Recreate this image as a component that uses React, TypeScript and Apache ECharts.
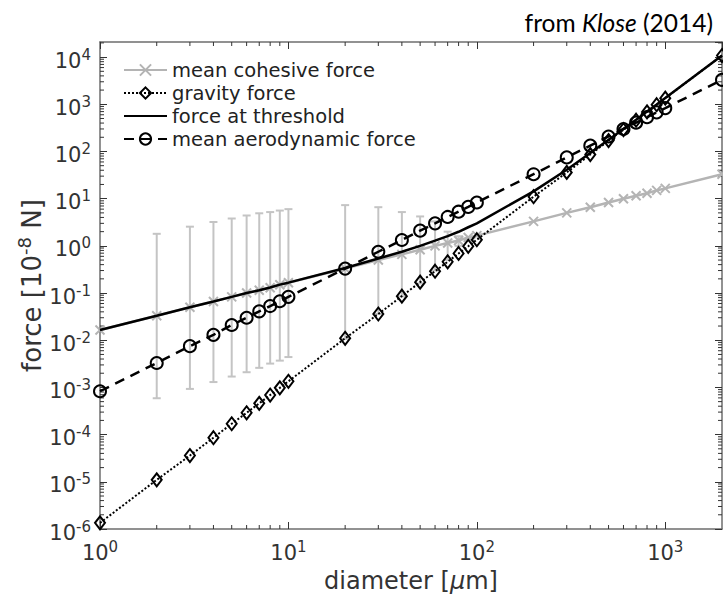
import React, { useEffect, useRef } from 'react';
import * as echarts from 'echarts';

// ---- data (diameter in µm, forces in 1e-8 N) ----
const diameters = [1, 2, 3, 4, 5, 6, 7, 8, 9, 10, 20, 30, 40, 50, 60, 70, 80, 90, 100, 200, 300, 400, 500, 600, 700, 800, 900, 1000, 2000];
const cohesiveForce = [0.0165, 0.033, 0.05, 0.066, 0.083, 0.1, 0.115, 0.13, 0.15, 0.165, 0.33, 0.5, 0.66, 0.83, 1.0, 1.15, 1.3, 1.5, 1.65, 3.3, 5.0, 6.6, 8.3, 10, 11.5, 13, 15, 16.5, 33];
const gravityForce = [1.35e-6, 1.1e-5, 3.6e-5, 8.6e-5, 1.7e-4, 2.9e-4, 4.6e-4, 6.9e-4, 9.8e-4, 1.35e-3, 1.1e-2, 3.6e-2, 8.6e-2, 0.17, 0.29, 0.46, 0.69, 0.98, 1.35, 11, 36, 86, 170, 290, 460, 690, 980, 1350, 10800];
const thresholdForce = [0.0165, 0.033, 0.05, 0.066, 0.083, 0.1, 0.115, 0.131, 0.151, 0.166, 0.34, 0.54, 0.75, 1.0, 1.29, 1.61, 1.99, 2.48, 3.0, 14.3, 41, 93, 178, 300, 472, 703, 995, 1366, 10833];
const aeroForce = [8.3e-4, 3.3e-3, 7.5e-3, 0.013, 0.021, 0.03, 0.041, 0.053, 0.067, 0.083, 0.33, 0.75, 1.33, 2.1, 3.0, 4.1, 5.3, 6.7, 8.3, 33, 75, 133, 208, 300, 408, 533, 675, 830, 3300];

const errDiameters = [2, 3, 4, 5, 6, 7, 8, 9, 10, 20, 30, 40, 50, 60, 70, 80];
const errUpper = [1.8, 2.55, 3.2, 3.8, 4.4, 4.9, 5.2, 5.6, 6.0, 7.3, 6.6, 5.2, 4.2, 3.3, 2.0, 1.6];
const errLower = [5.9e-4, 9.3e-4, 1.3e-3, 1.7e-3, 2.1e-3, 2.6e-3, 3.2e-3, 3.7e-3, 4.4e-3, 0.0107, 0.036, 0.085, 0.16, 0.3, 0.5, 1.0];

const legendNames = ['mean cohesive force', 'gravity force', 'force at threshold', 'mean aerodynamic force'];

const xDecades = [0, 1, 2];
const yDecades = [-6, -5, -4, -3, -2, -1, 0, 1, 2, 3, 4];
const minorFactors = [2, 3, 4, 5, 6, 7, 8, 9];

const X_MIN = 0;
const X_MAX = Math.log10(2000);
const Y_MIN = -6;
const Y_MAX = 4.32;

const FONT = 'DejaVu Sans';
const AXIS_COLOR = '#6e6e6e';
const TICK_COLOR = '#333';
const LABEL_COLOR = '#333';

const lg = (v: number) => Math.log10(v);

const supRich = {
  b: { fontSize: 21, lineHeight: 28, fontFamily: FONT, color: LABEL_COLOR, verticalAlign: 'bottom' },
  s: { fontSize: 15, lineHeight: 15, fontFamily: FONT, color: LABEL_COLOR, verticalAlign: 'top', padding: [4, 0, 0, 0] },
};

const powFormatter = (v: number) => {
  const r = Math.round(v);
  if (Math.abs(v - r) > 1e-6) return '';
  return `{b|10}{s|${r}}`;
};

export default function App() {
  const ref = useRef<HTMLDivElement>(null);

  useEffect(() => {
    if (!ref.current) return;
    const chart = echarts.init(ref.current, undefined, { renderer: 'svg' });

    const xMinor: number[] = [];
    xDecades.forEach((d) => minorFactors.forEach((f) => xMinor.push(lg(f) + d)));
    const yMinor: number[] = [];
    yDecades.forEach((d) =>
      minorFactors.forEach((f) => {
        const v = lg(f) + d;
        if (v < Y_MAX) yMinor.push(v);
      })
    );

    const pair = (ys: number[]) => diameters.map((d, i) => [lg(d), lg(ys[i])]);

    const commonX = {
      type: 'value',
      min: X_MIN,
      max: X_MAX,
      interval: 1,
      splitLine: { show: false },
      axisLine: { onZero: false, lineStyle: { color: AXIS_COLOR, width: 1.5 } },
      axisTick: { inside: true, length: 7, lineStyle: { color: TICK_COLOR, width: 1 } },
    };
    const commonY = {
      type: 'value',
      min: Y_MIN,
      max: Y_MAX,
      interval: 1,
      splitLine: { show: false },
      axisLine: { onZero: false, lineStyle: { color: AXIS_COLOR, width: 1.5 } },
      axisTick: { inside: true, length: 7, lineStyle: { color: TICK_COLOR, width: 1 } },
    };

    const option: any = {
      animation: false,
      backgroundColor: '#fff',
      title: {
        text: 'from {i|Klose} (2014)',
        right: 5,
        top: 5,
        textStyle: {
          fontFamily: 'Lato',
          fontSize: 24.5,
          fontWeight: 'normal',
          color: '#000',
          rich: { i: { fontFamily: 'Lato', fontSize: 24.5, fontStyle: 'italic', color: '#000' } },
        },
      },
      grid: { left: 100, right: 1, top: 42, bottom: 69, containLabel: false },
      legend: {
        data: legendNames.map((n, i) =>
          i === 2
            ? { name: n, itemStyle: { color: 'transparent', borderColor: 'transparent', borderWidth: 0 } }
            : { name: n }
        ),
        orient: 'vertical',
        left: 118,
        top: 55,
        itemWidth: 43,
        itemHeight: 14,
        itemGap: 3,
        textStyle: { fontFamily: FONT, fontSize: 19.5, color: '#222' },
        selectedMode: false,
      },
      xAxis: [
        {
          ...commonX,
          position: 'bottom',
          name: 'diameter [{mu|μ}m]',
          nameLocation: 'middle',
          nameGap: 40,
          nameMoveOverlap: false,
          nameTextStyle: {
            fontFamily: FONT,
            fontSize: 24,
            color: LABEL_COLOR,
            rich: { mu: { fontFamily: FONT, fontSize: 24, fontStyle: 'italic', color: LABEL_COLOR } },
          },
          axisLabel: { margin: 6, formatter: powFormatter, rich: supRich, showMaxLabel: false },
        },
        { ...commonX, position: 'top', axisLabel: { show: false } },
      ],
      yAxis: [
        {
          ...commonY,
          position: 'left',
          name: '{b|force [10}{s|-8}{b| N]}',
          nameLocation: 'middle',
          nameGap: 55,
          nameMoveOverlap: false,
          nameTextStyle: {
            fontFamily: FONT,
            fontSize: 26,
            color: LABEL_COLOR,
            rich: {
              b: { fontFamily: FONT, fontSize: 26, lineHeight: 34, color: LABEL_COLOR, verticalAlign: 'bottom' },
              s: { fontFamily: FONT, fontSize: 18, lineHeight: 18, color: LABEL_COLOR, verticalAlign: 'top', padding: [4, 0, 0, 0] },
            },
          },
          axisLabel: { margin: 9, formatter: powFormatter, rich: supRich, showMaxLabel: false },
        },
        { ...commonY, position: 'right', axisLabel: { show: false } },
      ],
      series: [
        {
          type: 'custom',
          silent: true,
          clip: false,
          data: xMinor.map((v) => [v, Y_MIN]),
          encode: { x: 0, y: 1 },
          renderItem: (_p: any, api: any) => {
            const x = api.coord([api.value(0), Y_MIN])[0];
            const yb = api.coord([X_MIN, Y_MIN])[1];
            const yt = api.coord([X_MIN, Y_MAX])[1];
            const st = { stroke: TICK_COLOR, lineWidth: 1 };
            return {
              type: 'group',
              children: [
                { type: 'line', shape: { x1: x, y1: yb, x2: x, y2: yb - 4 }, style: st },
                { type: 'line', shape: { x1: x, y1: yt, x2: x, y2: yt + 4 }, style: st },
              ],
            };
          },
        },
        {
          type: 'custom',
          silent: true,
          clip: false,
          data: yMinor.map((v) => [X_MIN, v]),
          encode: { x: 0, y: 1 },
          renderItem: (_p: any, api: any) => {
            const y = api.coord([X_MIN, api.value(1)])[1];
            const xl = api.coord([X_MIN, Y_MIN])[0];
            const xr = api.coord([X_MAX, Y_MIN])[0];
            const st = { stroke: TICK_COLOR, lineWidth: 1 };
            return {
              type: 'group',
              children: [
                { type: 'line', shape: { x1: xl, y1: y, x2: xl + 4, y2: y }, style: st },
                { type: 'line', shape: { x1: xr, y1: y, x2: xr - 4, y2: y }, style: st },
              ],
            };
          },
        },
        {
          name: legendNames[0],
          type: 'line',
          clip: false,
          data: pair(cohesiveForce),
          symbol: 'path://M0,0L10,10M10,0L0,10',
          symbolSize: 9,
          lineStyle: { color: '#b4b4b4', width: 2.5 },
          itemStyle: { color: 'none', borderColor: '#b4b4b4', borderWidth: 2 },
          z: 2,
        },
        {
          type: 'custom',
          silent: true,
          data: errDiameters.map((d, i) => [lg(d), lg(errLower[i]), lg(errUpper[i])]),
          encode: { x: 0, y: [1, 2] },
          z: 1,
          renderItem: (_p: any, api: any) => {
            const lo = api.coord([api.value(0), api.value(1)]);
            const hi = api.coord([api.value(0), api.value(2)]);
            const w = 4;
            const st = { stroke: '#c4c4c4', lineWidth: 2 };
            return {
              type: 'group',
              children: [
                { type: 'line', shape: { x1: lo[0], y1: lo[1], x2: hi[0], y2: hi[1] }, style: st },
                { type: 'line', shape: { x1: lo[0] - w, y1: lo[1], x2: lo[0] + w, y2: lo[1] }, style: st },
                { type: 'line', shape: { x1: hi[0] - w, y1: hi[1], x2: hi[0] + w, y2: hi[1] }, style: st },
              ],
            };
          },
        },
        {
          name: legendNames[1],
          type: 'line',
          clip: false,
          data: pair(gravityForce),
          symbol: 'diamond',
          symbolSize: [10, 13],
          lineStyle: { color: '#000', width: 2, type: [2, 2] },
          itemStyle: { color: 'none', borderColor: '#000', borderWidth: 2 },
          z: 3,
        },
        {
          name: legendNames[2],
          type: 'line',
          clip: false,
          data: pair(thresholdForce),
          symbol: 'none',
          lineStyle: { color: '#000', width: 2.5 },
          itemStyle: { color: 'none', borderColor: 'none', borderWidth: 0 },
          z: 4,
        },
        {
          name: legendNames[3],
          type: 'line',
          clip: false,
          data: pair(aeroForce),
          symbol: 'circle',
          symbolSize: 12,
          lineStyle: { color: '#000', width: 2.5, type: [10, 7] },
          itemStyle: { color: 'none', borderColor: '#000', borderWidth: 2 },
          z: 5,
        },
      ],
    };

    chart.setOption(option);
    return () => chart.dispose();
  }, []);

  return <div ref={ref} style={{ position: 'fixed', left: 0, top: 0, width: 723, height: 598 }} />;
}
